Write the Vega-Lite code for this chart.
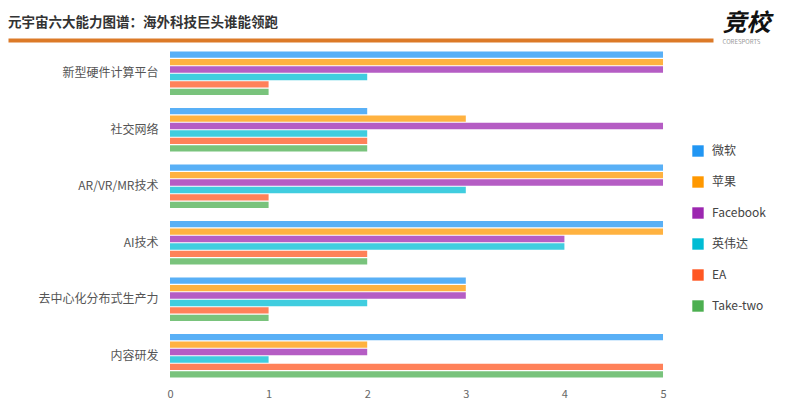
{
  "$schema": "https://vega.github.io/schema/vega-lite/v6.json",
  "width": 705,
  "height": 339,
  "autosize": {"type": "none"},
  "padding": {"left": 8, "top": 45, "right": 87, "bottom": 21},
  "background": "white",
  "config": {"view": {"stroke": null}, "font": "Noto Sans CJK SC"},
  "title": {
    "text": "元宇宙六大能力图谱：海外科技巨头谁能领跑",
    "anchor": "start",
    "frame": "group",
    "fontSize": 13.5,
    "fontWeight": "bold",
    "color": "#333333",
    "dy": 22
  },
  "data": {
    "values": [
      {"ability": "新型硬件计算平台", "company": "微软", "score": 5},
      {"ability": "新型硬件计算平台", "company": "苹果", "score": 5},
      {"ability": "新型硬件计算平台", "company": "Facebook", "score": 5},
      {"ability": "新型硬件计算平台", "company": "英伟达", "score": 2},
      {"ability": "新型硬件计算平台", "company": "EA", "score": 1},
      {"ability": "新型硬件计算平台", "company": "Take-two", "score": 1},
      {"ability": "社交网络", "company": "微软", "score": 2},
      {"ability": "社交网络", "company": "苹果", "score": 3},
      {"ability": "社交网络", "company": "Facebook", "score": 5},
      {"ability": "社交网络", "company": "英伟达", "score": 2},
      {"ability": "社交网络", "company": "EA", "score": 2},
      {"ability": "社交网络", "company": "Take-two", "score": 2},
      {"ability": "AR/VR/MR技术", "company": "微软", "score": 5},
      {"ability": "AR/VR/MR技术", "company": "苹果", "score": 5},
      {"ability": "AR/VR/MR技术", "company": "Facebook", "score": 5},
      {"ability": "AR/VR/MR技术", "company": "英伟达", "score": 3},
      {"ability": "AR/VR/MR技术", "company": "EA", "score": 1},
      {"ability": "AR/VR/MR技术", "company": "Take-two", "score": 1},
      {"ability": "AI技术", "company": "微软", "score": 5},
      {"ability": "AI技术", "company": "苹果", "score": 5},
      {"ability": "AI技术", "company": "Facebook", "score": 4},
      {"ability": "AI技术", "company": "英伟达", "score": 4},
      {"ability": "AI技术", "company": "EA", "score": 2},
      {"ability": "AI技术", "company": "Take-two", "score": 2},
      {"ability": "去中心化分布式生产力", "company": "微软", "score": 3},
      {"ability": "去中心化分布式生产力", "company": "苹果", "score": 3},
      {"ability": "去中心化分布式生产力", "company": "Facebook", "score": 3},
      {"ability": "去中心化分布式生产力", "company": "英伟达", "score": 2},
      {"ability": "去中心化分布式生产力", "company": "EA", "score": 1},
      {"ability": "去中心化分布式生产力", "company": "Take-two", "score": 1},
      {"ability": "内容研发", "company": "微软", "score": 5},
      {"ability": "内容研发", "company": "苹果", "score": 2},
      {"ability": "内容研发", "company": "Facebook", "score": 2},
      {"ability": "内容研发", "company": "英伟达", "score": 1},
      {"ability": "内容研发", "company": "EA", "score": 5},
      {"ability": "内容研发", "company": "Take-two", "score": 5}
    ]
  },
  "layer": [
    {
      "mark": {"type": "bar", "opacity": 0.75},
      "encoding": {
        "y": {
          "field": "ability",
          "type": "nominal",
          "sort": null,
          "scale": {"paddingInner": 0.23, "paddingOuter": 0.115},
          "axis": {
            "offset": -162,
            "domain": false,
            "ticks": false,
            "labelPadding": 12,
            "labelFontSize": 12,
            "labelColor": "#555555",
            "title": "CORESPORTS",
            "titleAngle": 0,
            "titleFontSize": 6,
            "titleFontWeight": "normal",
            "titleColor": "#999999",
            "titleAlign": "left",
            "titleBaseline": "middle",
            "titleX": 552,
            "titleY": -4
          }
        },
        "yOffset": {
          "field": "company",
          "sort": ["微软", "苹果", "Facebook", "英伟达", "EA", "Take-two"],
          "scale": {"paddingInner": 0.15}
        },
        "x": {
          "field": "score",
          "type": "quantitative",
          "stack": null,
          "scale": {"domain": [-1.643, 5.507], "nice": false, "zero": false},
          "axis": {
            "orient": "bottom",
            "values": [0, 1, 2, 3, 4, 5],
            "domain": false,
            "ticks": false,
            "grid": false,
            "labelFontSize": 11,
            "labelColor": "#666666",
            "labelPadding": 4,
            "title": null
          }
        },
        "color": {
          "field": "company",
          "type": "nominal",
          "sort": ["微软", "苹果", "Facebook", "英伟达", "EA", "Take-two"],
          "scale": {
            "domain": ["微软", "苹果", "Facebook", "英伟达", "EA", "Take-two"],
            "range": ["#2196F3", "#FF9800", "#9C27B0", "#00BCD4", "#FF5722", "#4CAF50"]
          },
          "legend": {
            "orient": "none",
            "legendX": 684,
            "legendY": 100,
            "title": null,
            "symbolType": "square",
            "symbolSize": 130,
            "symbolOpacity": 1,
            "symbolStrokeWidth": 0,
            "labelFontSize": 12,
            "labelColor": "#444444",
            "labelOffset": 8,
            "rowPadding": 19
          }
        }
      }
    },
    {
      "mark": {"type": "tick", "opacity": 0},
      "encoding": {
        "x": {
          "field": "score",
          "type": "quantitative",
          "scale": {"domain": [-1.643, 5.507], "nice": false, "zero": false},
          "axis": {
            "orient": "top",
            "offset": 5,
            "domainColor": "#DC7A28",
            "domainWidth": 4,
            "labels": false,
            "ticks": false,
            "grid": false,
            "title": "竞校",
            "titleX": 714,
            "titleY": -10,
            "titleAlign": "left",
            "titleBaseline": "alphabetic",
            "titleFontSize": 24,
            "titleFontWeight": "bold",
            "titleFontStyle": "italic",
            "titleColor": "#111111"
          }
        }
      }
    }
  ],
  "resolve": {"axis": {"x": "independent"}}
}
